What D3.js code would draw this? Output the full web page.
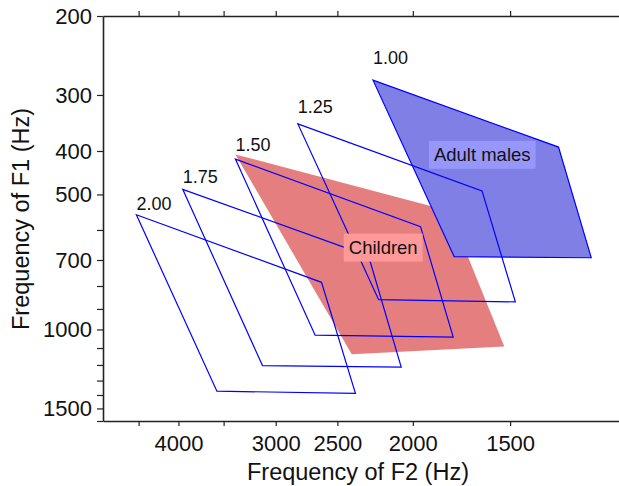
<!DOCTYPE html>
<html>
<head>
<meta charset="utf-8">
<script src="https://cdn.jsdelivr.net/npm/d3@7"></script>
<style>
body { margin: 0; background: #fff; }
text { font-family: "Liberation Sans", Arial, sans-serif; fill: #111; }
</style>
</head>
<body>
<script>

// vowel space corners, [F2, F1] in Hz
var adultMales = [[2250, 278], [1300, 392], [1180, 692], [1770, 688]];
var scaled125 = [[2810, 348], [1630, 491], [1477, 868], [2213, 858]];
var scaled150 = [[3380, 417], [1955, 590], [1775, 1040], [2670, 1030]];
var scaled175 = [[3950, 487], [2280, 686], [2070, 1213], [3120, 1204]];
var scaled200 = [[4530, 555], [2620, 785], [2370, 1388], [3570, 1373]];
var children = [[3380, 407], [1795, 544], [1526, 1092], [2396, 1136]];

var outlineNames = ["1.25", "1.50", "1.75", "2.00"];
var outlines = [scaled125, scaled150, scaled175, scaled200];

var xTicks = [4500, 4000, 3500, 3000, 2500, 2000, 1500];
var xLabels = [4000, 3000, 2500, 2000, 1500];
var yTicks = [200, 300, 400, 500, 600, 700, 800, 900, 1000, 1100, 1200, 1300, 1400, 1500, 1600];
var yLabels = [200, 300, 400, 500, 700, 1000, 1500];

var W = 619, H = 486;
var margins = { top: 16, left: 103 };

var svg = d3.select("body").append("svg")
  .attr("width", W)
  .attr("height", H);

// log scales, F2 runs high -> low
var x = d3.scaleLog().domain([5000, 1000]).range([margins.left, margins.left + 778.6 * Math.log10(5)]);
var y = d3.scaleLog().domain([200, 1600]).range([margins.top, 421]);

var line = d3.line()
  .x(function(d){ return x(d[0]); })
  .y(function(d){ return y(d[1]); })
  .curve(d3.curveLinearClosed);

var g = svg.append("g");

// filled areas
g.append("path")
  .attr("d", line(children))
  .style("fill", "#e57f7f")
  .style("stroke", "none");

g.append("path")
  .attr("d", line(adultMales))
  .style("fill", "#7f7fe6")
  .style("stroke", "#0000ff")
  .style("stroke-width", 1.2);

// scaled outlines
g.selectAll(".outline")
  .data(outlines)
  .enter()
  .append("path")
  .attr("class", "outline")
  .attr("d", function(d){ return line(d); })
  .style("fill", "none")
  .style("stroke", "#0000ff")
  .style("stroke-width", 1.2);

// scale factor labels, left edge on the top corner
var factorData = [adultMales].concat(outlines);
var factorNames = ["1.00"].concat(outlineNames);
for (var i = 0; i < factorData.length; i++) {
  var corner = factorData[i][0];
  svg.append("text")
    .attr("x", x(corner[0]))
    .attr("y", y(corner[1] - 30))
    .attr("dy", "0.35em")
    .style("font-size", "18px")
    .text(factorNames[i]);
}

// boxed group labels
var boxLabel = function(txt, f2, f1, col){
  var lg = svg.append("g");
  var rect = lg.append("rect").style("fill", col);
  var t = lg.append("text")
    .attr("x", x(f2))
    .attr("y", y(f1))
    .attr("dy", "0.35em")
    .attr("text-anchor", "middle")
    .style("font-size", "18.5px")
    .text(txt);
  var bb = t.node().getBBox();
  rect.attr("x", bb.x - 5)
    .attr("y", bb.y - 3.5)
    .attr("width", bb.width + 10)
    .attr("height", bb.height + 7);
};
boxLabel("Adult males", 1629, 408, "#9797fb");
boxLabel("Children", 2183, 657, "#ff9898");

// axes
var styleAxis = function(sel){
  sel.select(".domain").style("stroke", "#222").style("stroke-width", 1.6);
  sel.selectAll(".tick line").style("stroke", "#222").style("stroke-width", 1.2);
  sel.selectAll("text").style("font-size", "22px").style("fill", "#111")
    .style("font-family", "'Liberation Sans', Arial, sans-serif");
};

var xFmt = function(d){ return xLabels.indexOf(d) >= 0 ? d : ""; };
var yFmt = function(d){ return yLabels.indexOf(d) >= 0 ? d : ""; };

svg.append("g")
  .attr("transform", "translate(0," + y(1600) + ")")
  .call(d3.axisBottom(x).tickValues(xTicks).tickFormat(xFmt).tickSize(5).tickSizeOuter(0).tickPadding(9))
  .call(styleAxis);

svg.append("g")
  .attr("transform", "translate(0," + y(200) + ")")
  .call(d3.axisTop(x).tickValues(xTicks).tickFormat("").tickSize(5).tickSizeOuter(0))
  .call(styleAxis);

svg.append("g")
  .attr("transform", "translate(" + x(5000) + ",0)")
  .call(d3.axisLeft(y).tickValues(yTicks).tickFormat(yFmt).tickSize(6).tickSizeOuter(0).tickPadding(5))
  .call(styleAxis);

// axis titles
svg.append("text")
  .attr("x", 358)
  .attr("y", 480)
  .attr("text-anchor", "middle")
  .style("font-size", "23.5px")
  .text("Frequency of F2 (Hz)");

svg.append("text")
  .attr("transform", "translate(28.5,219) rotate(-90)")
  .attr("text-anchor", "middle")
  .style("font-size", "23.5px")
  .text("Frequency of F1 (Hz)");

</script>
</body>
</html>
